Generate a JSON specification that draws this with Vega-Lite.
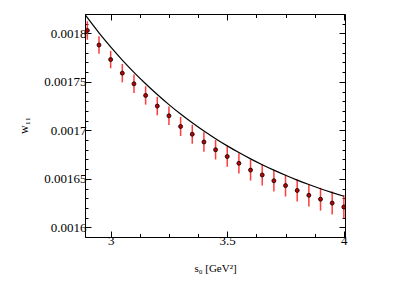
{
  "$schema": "https://vega.github.io/schema/vega-lite/v6.json",
  "width": 260,
  "height": 223,
  "autosize": {"type": "none"},
  "padding": {"left": 85, "top": 14, "right": 58, "bottom": 48},
  "background": "white",
  "config": {"view": {"stroke": null}},
  "datasets": {
    "pts": [
      {"s0": 2.9, "w": 0.001803, "lo": 0.0017935, "hi": 0.0018125},
      {"s0": 2.95, "w": 0.001788, "lo": 0.001779, "hi": 0.001797},
      {"s0": 3.0, "w": 0.001773, "lo": 0.001764, "hi": 0.001782},
      {"s0": 3.05, "w": 0.001759, "lo": 0.0017495, "hi": 0.0017685},
      {"s0": 3.1, "w": 0.001748, "lo": 0.0017385, "hi": 0.0017575},
      {"s0": 3.15, "w": 0.001736, "lo": 0.0017265, "hi": 0.0017455},
      {"s0": 3.2, "w": 0.001725, "lo": 0.0017155, "hi": 0.0017345},
      {"s0": 3.25, "w": 0.001715, "lo": 0.0017055, "hi": 0.0017245},
      {"s0": 3.3, "w": 0.001704, "lo": 0.0016942, "hi": 0.0017138},
      {"s0": 3.35, "w": 0.001696, "lo": 0.0016862, "hi": 0.0017058},
      {"s0": 3.4, "w": 0.001688, "lo": 0.001678, "hi": 0.001698},
      {"s0": 3.45, "w": 0.00168, "lo": 0.00167, "hi": 0.00169},
      {"s0": 3.5, "w": 0.001673, "lo": 0.0016625, "hi": 0.0016835},
      {"s0": 3.55, "w": 0.001666, "lo": 0.0016555, "hi": 0.0016765},
      {"s0": 3.6, "w": 0.001659, "lo": 0.0016482, "hi": 0.0016698},
      {"s0": 3.65, "w": 0.001654, "lo": 0.001643, "hi": 0.001665},
      {"s0": 3.7, "w": 0.001648, "lo": 0.001637, "hi": 0.001659},
      {"s0": 3.75, "w": 0.001643, "lo": 0.0016318, "hi": 0.0016542},
      {"s0": 3.8, "w": 0.001638, "lo": 0.0016265, "hi": 0.0016495},
      {"s0": 3.85, "w": 0.001633, "lo": 0.0016215, "hi": 0.0016445},
      {"s0": 3.9, "w": 0.001629, "lo": 0.0016172, "hi": 0.0016408},
      {"s0": 3.95, "w": 0.001625, "lo": 0.0016132, "hi": 0.0016368},
      {"s0": 4.0, "w": 0.001621, "lo": 0.001609, "hi": 0.001633}
    ],
    "curve": [
      {"s0": 2.89, "w": 0.0018194},
      {"s0": 2.9, "w": 0.0018162},
      {"s0": 2.95, "w": 0.0018006},
      {"s0": 3.0, "w": 0.0017861},
      {"s0": 3.05, "w": 0.0017725},
      {"s0": 3.1, "w": 0.0017598},
      {"s0": 3.15, "w": 0.001748},
      {"s0": 3.2, "w": 0.0017369},
      {"s0": 3.25, "w": 0.0017265},
      {"s0": 3.3, "w": 0.0017168},
      {"s0": 3.35, "w": 0.0017078},
      {"s0": 3.4, "w": 0.0016993},
      {"s0": 3.45, "w": 0.0016914},
      {"s0": 3.5, "w": 0.001684},
      {"s0": 3.55, "w": 0.0016771},
      {"s0": 3.6, "w": 0.0016706},
      {"s0": 3.65, "w": 0.0016646},
      {"s0": 3.7, "w": 0.001659},
      {"s0": 3.75, "w": 0.0016537},
      {"s0": 3.8, "w": 0.0016487},
      {"s0": 3.85, "w": 0.0016441},
      {"s0": 3.9, "w": 0.0016398},
      {"s0": 3.95, "w": 0.0016358},
      {"s0": 4.0, "w": 0.001632}
    ]
  },
  "layer": [
    {
      "data": {"name": "pts"},
      "mark": {"type": "rule", "color": "#ff1a1a", "strokeWidth": 1.5, "opacity": 0.85, "clip": true},
      "encoding": {
        "x": {
          "field": "s0", "type": "quantitative",
          "scale": {"domain": [2.89, 4.005], "nice": false, "zero": false},
          "axis": {
            "orient": "bottom",
            "values": [3, 3.125, 3.25, 3.375, 3.5, 3.625, 3.75, 3.875, 4],
            "format": "~g",
            "labelExpr": "datum.value % 0.5 == 0 ? datum.label : ''",
            "tickSize": {"condition": {"test": "datum.value % 0.5 == 0", "value": -6}, "value": -3.5},
            "tickColor": "#000", "domainColor": "#000", "grid": false,
            "labelFont": "Liberation Serif", "labelFontSize": 13, "labelColor": "#000", "labelPadding": 3,
            "title": "s₀ [GeV²]", "titleFont": "Liberation Serif", "titleFontSize": 11,
            "titleFontWeight": "normal", "titleColor": "#000", "titleBaseline": "alphabetic", "titleY": 34
          }
        },
        "y": {
          "field": "lo", "type": "quantitative",
          "scale": {"domain": [0.00159, 0.00182], "nice": false, "zero": false},
          "axis": {
            "orient": "left",
            "values": [0.00159, 0.0016, 0.00161, 0.00162, 0.00163, 0.00164, 0.00165, 0.00166, 0.00167, 0.00168, 0.00169, 0.0017, 0.00171, 0.00172, 0.00173, 0.00174, 0.00175, 0.00176, 0.00177, 0.00178, 0.00179, 0.0018, 0.00181, 0.00182],
            "format": ".5~f",
            "labelExpr": "abs(datum.value*20000 - round(datum.value*20000)) < 1e-6 ? datum.label : ''",
            "tickSize": {"condition": {"test": "abs(datum.value*20000 - round(datum.value*20000)) < 1e-6", "value": -6}, "value": -3},
            "tickColor": "#000", "domainColor": "#000", "grid": false,
            "labelFont": "Liberation Serif", "labelFontSize": 13, "labelColor": "#000", "labelPadding": 5,
            "title": "w₁₁", "titleFont": "Liberation Serif", "titleFontSize": 12,
            "titleFontWeight": "normal", "titleColor": "#000", "titleBaseline": "alphabetic",
            "titleAngle": -90, "titleX": -58, "titleY": 111
          }
        },
        "y2": {"field": "hi"}
      }
    },
    {
      "data": {"name": "pts"},
      "mark": {"type": "point", "shape": "circle", "filled": true, "size": 16, "fill": "#c00000", "stroke": "#000", "strokeWidth": 0.8, "opacity": 1, "clip": true},
      "encoding": {
        "x": {"field": "s0", "type": "quantitative", "scale": {"domain": [2.89, 4.005], "nice": false, "zero": false}, "axis": null},
        "y": {"field": "w", "type": "quantitative", "scale": {"domain": [0.00159, 0.00182], "nice": false, "zero": false}, "axis": null}
      }
    },
    {
      "data": {"name": "curve"},
      "mark": {"type": "line", "color": "#000", "strokeWidth": 1.2, "interpolate": "monotone", "clip": true},
      "encoding": {
        "x": {
          "field": "s0", "type": "quantitative",
          "scale": {"domain": [2.89, 4.005], "nice": false, "zero": false},
          "axis": {
            "orient": "top", "title": null, "labels": false,
            "values": [3, 3.125, 3.25, 3.375, 3.5, 3.625, 3.75, 3.875, 4],
            "tickSize": {"condition": {"test": "datum.value % 0.5 == 0", "value": -6}, "value": -3.5},
            "tickColor": "#000", "domainColor": "#000", "grid": false
          }
        },
        "y": {
          "field": "w", "type": "quantitative",
          "scale": {"domain": [0.00159, 0.00182], "nice": false, "zero": false},
          "axis": {
            "orient": "right", "title": null, "labels": false,
            "values": [0.00159, 0.0016, 0.00161, 0.00162, 0.00163, 0.00164, 0.00165, 0.00166, 0.00167, 0.00168, 0.00169, 0.0017, 0.00171, 0.00172, 0.00173, 0.00174, 0.00175, 0.00176, 0.00177, 0.00178, 0.00179, 0.0018, 0.00181, 0.00182],
            "tickSize": {"condition": {"test": "abs(datum.value*20000 - round(datum.value*20000)) < 1e-6", "value": -6}, "value": -3},
            "tickColor": "#000", "domainColor": "#000", "grid": false
          }
        }
      }
    }
  ],
  "resolve": {"axis": {"x": "independent", "y": "independent"}}
}
